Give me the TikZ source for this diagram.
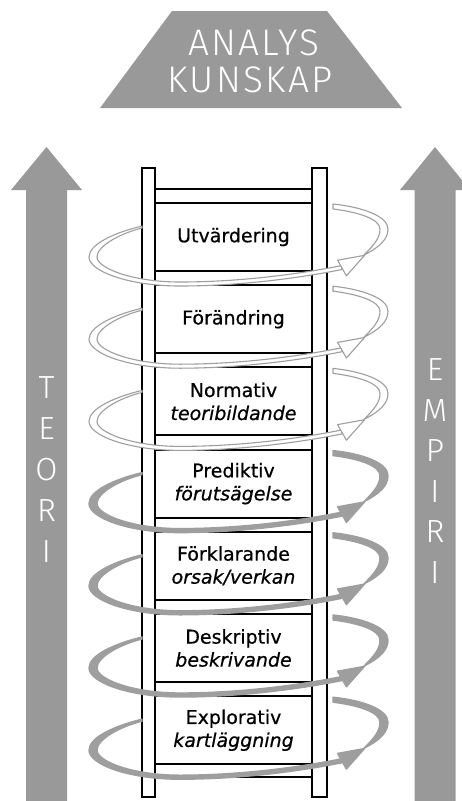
\documentclass[tikz,border=0pt]{standalone}
\usepackage{fontspec}
\setmainfont{DejaVu Sans}[FakeBold=0.6]
\newfontfamily\thinfont{Fira Sans Light}[LetterSpace=6]
\definecolor{fillgray}{RGB}{153,153,153}
\definecolor{loopgray}{RGB}{158,158,158}

\begin{document}
\begin{tikzpicture}[x=1pt,y=-1pt,
  bigarrow/.style={fill=fillgray,draw=none},
  axisletter/.style={text=white,inner sep=0,font=\thinfont\fontsize{32}{32}\selectfont},
  titletext/.style={text=white,inner sep=0,anchor=base,font=\thinfont\fontsize{37}{37}\selectfont},
  rail/.style={draw=black,line width=2pt,fill=white,line join=miter},
  rung/.style={draw=black,line width=2pt,fill=white,minimum width=157pt,minimum height=68pt,
    inner sep=0,align=center,font=\fontsize{19}{23}\selectfont},
  hollowturn/.style={fill=white,draw=loopgray,line width=1.1pt,line join=round},
  solidturn/.style={fill=loopgray,draw=loopgray,line width=1.4pt,line join=round},
  turn/.pic={
    % outer arc on the right, from behind the rail down to the arrow tip
    \path[pic actions] (333,-33) .. controls (362,-30) and (388,-21) .. (388,-8)
      .. controls (388,2) and (380,10) .. (364,18)
      .. controls (374,8) and (380,1) .. (380,-8)
      .. controls (380,-18) and (358,-25) .. (333,-28) -- cycle;
    % sweep round the left side and across the front
    \path[pic actions] (142,-11) .. controls (115,-4.5) and (89,7) .. (89,20)
      .. controls (89,34) and (128,49) .. (180,49)
      .. controls (240,49) and (300,41) .. (342,32.5) -- (342,28.5)
      .. controls (300,37) and (240,45) .. (180,45)
      .. controls (132,45) and (97,31) .. (97,20)
      .. controls (97,9) and (120,-3.5) .. (142,-9) -- cycle;
    % arrow head
    \path[pic actions] (337.6,23.2) -- (364.6,18.3) -- (346.4,38.8) -- cycle;
  }
]
\useasboundingbox (0,0) rectangle (462,801);
\clip (0,0) rectangle (462,801);

% title block
\fill[fillgray] (172,11) -- (327,11) -- (402,108) -- (100,108) -- cycle;
\node[titletext] (analys) at (254,55) {ANALYS};
\node[titletext] (kunskap) at (250,92) {KUNSKAP};

% theory and empiricism arrows
\fill[bigarrow] (26,801) -- (26,190) -- (11,190) -- (46.5,147) -- (82,190) -- (67,190) -- (67,801) -- cycle;
\fill[bigarrow] (414.5,801) -- (414.5,190) -- (400,190) -- (435,147) -- (470,190) -- (455.5,190) -- (455.5,801) -- cycle;
\foreach \ch [count=\i] in {T,E,O,R,I}
  \node[axisletter] (teori-\i) at (46.5,{388+41*(\i-1)}) {\ch};
\foreach \ch [count=\i] in {E,M,P,I,R,I}
  \node[axisletter] (empiri-\i) at (435,{370+40.5*(\i-1)}) {\ch};

% ladder frame
\path[rail] (142,168) -- (155,168) -- (155,189) -- (312,189) -- (312,168) -- (327,168)
  -- (327,797) -- (312,797) -- (312,777) -- (155,777) -- (155,797) -- (142,797) -- cycle;
\draw[line width=2pt] (155,189) -- (155,777) (312,189) -- (312,777);

% rungs
\node[rung] (r1) at (233.5,237.0) {Utvärdering};
\node[rung] (r2) at (233.5,319.2) {Förändring};
\node[rung] (r3) at (233.5,401.4) {Normativ\\\textit{teoribildande}};
\node[rung] (r4) at (233.5,483.6) {Prediktiv\\\textit{förutsägelse}};
\node[rung] (r5) at (233.5,565.8) {Förklarande\\\textit{orsak/verkan}};
\node[rung] (r6) at (233.5,648.0) {Deskriptiv\\\textit{beskrivande}};
\node[rung] (r7) at (233.5,730.2) {Explorativ\\\textit{kartläggning}};

% turns around the rungs
\pic[hollowturn] at (0,237.0) {turn};
\pic[hollowturn] at (0,319.2) {turn};
\pic[hollowturn] at (0,401.4) {turn};
\pic[solidturn] at (0,483.6) {turn};
\pic[solidturn] at (0,565.8) {turn};
\pic[solidturn] at (0,648.0) {turn};
\pic[solidturn] at (0,730.2) {turn};
\end{tikzpicture}
\end{document}
